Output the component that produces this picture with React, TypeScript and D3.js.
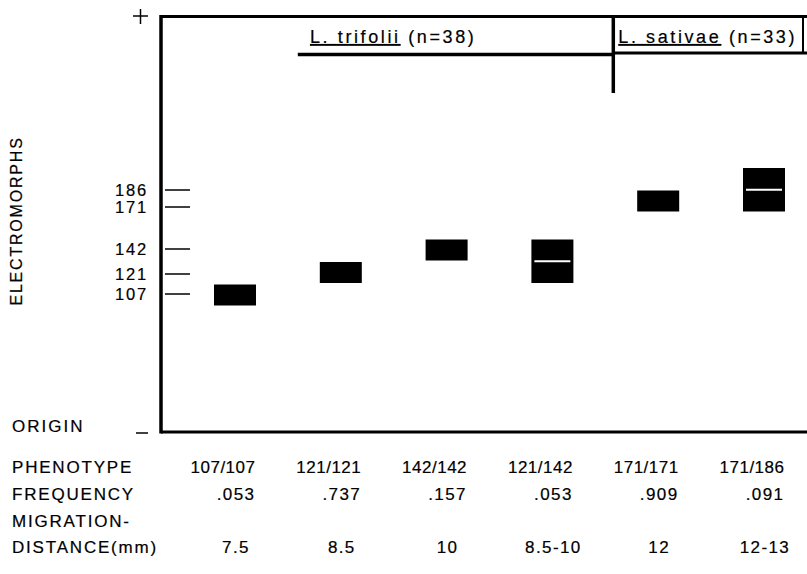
import React from "react";
import * as d3 from "d3";

// ---- data ----
const phenotypes = ["107/107", "121/121", "142/142", "121/142", "171/171", "171/186"];
const alleleA = [107, 121, 142, 121, 171, 171];
const alleleB = [107, 121, 142, 142, 171, 186];
const frequencies = [".053", ".737", ".157", ".053", ".909", ".091"];
const distances = ["7.5", "8.5", "10", "8.5-10", "12", "12-13"];
const electromorphTicks = [107, 121, 142, 171, 186];
const groupNames = ["L. trifolii", "L. sativae"];
const groupCounts = [38, 33];
const rowLabels = ["PHENOTYPE", "FREQUENCY", "MIGRATION-", "DISTANCE(mm)"];

const W = 807;
const H = 574;
const FONT = "'Liberation Sans', Arial, Helvetica, sans-serif";

export default function App() {
  const frameLeft = 161;
  const frameTop = 16.5;
  const frameBottom = 432;
  const frameRight = W;

  const x = d3.scalePoint<string>().domain(phenotypes).range([235, 764]);
  // band (mobility) positions of the stained bands
  const yBand = d3.scaleLinear().domain(electromorphTicks).range([295, 272.5, 250, 201, 178.5]);
  // reference tick positions on the electromorph axis
  const yTick = d3.scaleLinear().domain(electromorphTicks).range([294, 274, 249, 207, 190]);

  const bandH = 21;
  const bandW = 42;

  const sep = (x(phenotypes[3])! + x(phenotypes[4])!) / 2 + 8;
  const triStart = x(phenotypes[1])! - 43;

  const rowY = [473, 500, 527, 553];
  const ink = { fill: "#000", stroke: "#000", strokeWidth: 0.2 };

  return (
    <svg
      width={W}
      height={H}
      viewBox={`0 0 ${W} ${H}`}
      style={{ position: "absolute", left: 0, top: 0, background: "#fff" }}
      fontFamily={FONT}
    >
      <rect x={0} y={0} width={W} height={H} fill="#fff" />

      {/* frame */}
      <line x1={frameLeft} x2={frameRight} y1={frameTop} y2={frameTop} stroke="#000" strokeWidth={3} />
      <line x1={frameLeft} x2={frameLeft} y1={frameTop - 1.5} y2={frameBottom + 1.5} stroke="#000" strokeWidth={3.5} />
      <line x1={frameLeft} x2={frameRight} y1={frameBottom} y2={frameBottom} stroke="#000" strokeWidth={3} />

      {/* + and - markers */}
      <line x1={133} x2={148} y1={16} y2={16} stroke="#000" strokeWidth={1.5} />
      <line x1={140.5} x2={140.5} y1={9} y2={24} stroke="#000" strokeWidth={1.5} />
      <line x1={136} x2={148} y1={433} y2={433} stroke="#000" strokeWidth={1.5} />

      {/* group headers */}
      <line x1={triStart} x2={sep} y1={54.5} y2={54.5} stroke="#000" strokeWidth={3.5} />
      <line x1={sep} x2={sep} y1={frameTop} y2={93} stroke="#000" strokeWidth={3.5} />
      <line x1={sep} x2={frameRight} y1={53} y2={53} stroke="#000" strokeWidth={3} />
      <line x1={803} x2={803} y1={frameTop} y2={53} stroke="#000" strokeWidth={2} />
      {groupNames.map((g, i) => {
        const tx = i === 0 ? 310 : sep + 5;
        return (
          <text key={g} x={tx} y={43} fontSize={18} letterSpacing={2.6} {...ink}>
            <tspan textDecoration="underline">{g}</tspan>
            <tspan>{` (n=${groupCounts[i]})`}</tspan>
          </text>
        );
      })}

      {/* y axis label */}
      <text
        transform="translate(22,221) rotate(-90)"
        textAnchor="middle"
        fontSize={16}
        letterSpacing={1.8}
        {...ink}
      >
        ELECTROMORPHS
      </text>

      {/* electromorph ticks */}
      {electromorphTicks.map((v) => (
        <g key={v}>
          <line x1={165} x2={190} y1={yTick(v)} y2={yTick(v)} stroke="#000" strokeWidth={1.5} />
          <text x={148} y={yTick(v) + 6} textAnchor="end" fontSize={16.5} letterSpacing={1.8} {...ink}>
            {v}
          </text>
        </g>
      ))}

      <text x={12} y={432} fontSize={17} letterSpacing={2} {...ink}>ORIGIN</text>

      {/* bands */}
      {phenotypes.map((p, i) => {
        const cx = x(p)!;
        const ya = yBand(alleleA[i]);
        const yb = yBand(alleleB[i]);
        const top = Math.min(ya, yb) - bandH / 2;
        const bottom = Math.max(ya, yb) + bandH / 2;
        const het = alleleA[i] !== alleleB[i];
        const mid = (ya + yb) / 2;
        return (
          <g key={p}>
            <rect x={cx - bandW / 2} y={top} width={bandW} height={bottom - top} fill="#000" />
            {het && (
              <line x1={cx - bandW / 2 + 3} x2={cx + bandW / 2 - 3} y1={mid} y2={mid} stroke="#fff" strokeWidth={2} />
            )}
          </g>
        );
      })}

      {/* table */}
      {rowLabels.map((l, i) => (
        <text key={l} x={12} y={rowY[i]} fontSize={17} letterSpacing={1.8} {...ink}>
          {l}
        </text>
      ))}
      {phenotypes.map((p, i) => (
        <g key={"t" + p}>
          <text x={x(p)! - 12} y={rowY[0]} textAnchor="middle" fontSize={17} letterSpacing={0.5} {...ink}>
            {p}
          </text>
          <text x={x(p)! + 1} y={rowY[1]} textAnchor="middle" fontSize={17} letterSpacing={1.4} {...ink}>
            {frequencies[i]}
          </text>
          <text x={x(p)! + 1} y={rowY[3]} textAnchor="middle" fontSize={17} letterSpacing={1.4} {...ink}>
            {distances[i]}
          </text>
        </g>
      ))}
    </svg>
  );
}
